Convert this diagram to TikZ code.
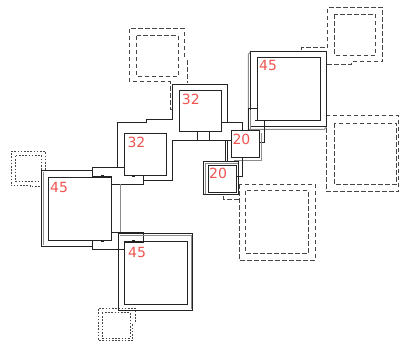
\documentclass[tikz,border=0pt]{standalone}
\usepackage{fontspec}
\newfontfamily\lblfont{DejaVu Sans}
\definecolor{lblred}{RGB}{238,84,80}
\definecolor{wallc}{RGB}{35,35,35}
\definecolor{shadec}{RGB}{140,140,140}
\definecolor{dashc}{RGB}{70,70,70}
\begin{document}
\begin{tikzpicture}[x=1pt,y=-1pt,
 wall/.style={draw=wallc,line width=1pt},
 shade/.style={draw=shadec,line width=1pt},
 dsh/.style={draw=dashc,line width=0.8pt,dash pattern=on 4.5pt off 2.5pt},
 dot/.style={draw=dashc,line width=0.8pt,dash pattern=on 1.6pt off 1.6pt},
 lbl/.style={text=lblred,font=\lblfont\fontsize{14}{14}\selectfont,anchor=north west,inner sep=0pt}]
\useasboundingbox (0,0) rectangle (399,341);
% dashed outlines
\draw[dsh] (184,57)--(184,28.3)--(129.3,28.3)--(129.3,81.7)--(170,81.7)--(170,109.3)--(172.7,109.3);
\draw[dsh] (187,60)--(187,83);
\draw[dsh] (136.7,35.7) rectangle (178.3,76.7);
\draw[dsh] (301.7,50)--(301.7,47.3)--(327.7,47.3)--(327.7,7.3)--(382.3,7.3)--(382.3,61.7)--(351.7,61.7)--(351.7,64.3)--(326.7,64.3);
\draw[dsh] (334.3,14.3) rectangle (375.7,55);
\draw[dsh] (326.7,128)--(326.7,191.7)--(398.3,191.7)--(398.3,115.3)--(326.7,115.3);
\draw[dsh] (334.3,123.3) rectangle (396.7,184.3);
\draw[dsh] (223.3,196)--(223.3,199.3)--(239,199.3);
\draw[dsh] (239,184) rectangle (315,260);
\draw[dsh] (245.7,190.7) rectangle (308.3,253.3);
% dotted outlines
\draw[dot] (45.7,170)--(45.7,151.7)--(11,151.7)--(11,185.7)--(30,185.7)--(30,186.7)--(41.7,186.7);
\draw[dot] (15.7,155.7) rectangle (41.7,181.7);
\draw[dot] (135,322)--(135,308.3)--(98.3,308.3)--(98.3,340.3)--(132.7,340.3)--(132.7,324);
\draw[dot] (102.3,312.7) rectangle (130,338.3);
% left 45 room
\draw[shade] (43.2,171.5)--(43.2,245.2);
\draw[wall] (92.3,170)--(41.7,170)--(41.7,246.7)--(92.3,246.7);
\draw[wall] (48.3,177.3) rectangle (111,240);
% corridors near left 45
\draw[wall] (92.3,167.3)--(124.3,167.3)--(124.3,175)--(143.3,175)--(143.3,184)--(111,184)--(111,176.7)--(92.3,176.7)--cycle;
\draw[wall] (111,232.3)--(143.3,232.3)--(143.3,242.3)--(124.3,242.3)--(124.3,249.3)--(92.3,249.3)--(92.3,240)--(111,240)--cycle;
\draw[shade] (120.7,184)--(120.7,232.3);
\draw[wall] (101.5,176.7)--(101.5,175.2)--(103.5,175.2)--(103.5,176.7);
\draw[wall] (132.5,175)--(132.5,176.5)--(134.5,176.5)--(134.5,175);
\draw[wall] (101.5,240)--(101.5,241.5)--(103.5,241.5)--(103.5,240);
\draw[wall] (132.5,242.3)--(132.5,240.8)--(134.5,240.8)--(134.5,242.3);
% 32 rooms
\draw[wall] (117.3,167.3)--(117.3,122.3)--(146.7,122.3)--(146.7,119.3)--(172.7,119.3)--(172.7,84)--(227.5,84)--(227.5,122.3);
\draw[wall] (221,122.3)--(242.7,122.3)--(242.7,130);
\draw[wall] (143.3,180.7)--(172.7,180.7)--(172.7,140.7)--(231,140.7);
\draw[wall] (124.3,133.3) rectangle (166,175);
\draw[wall] (179.3,90) rectangle (221,131.7);
\draw[wall] (197.7,131.7) rectangle (209.3,140.7);
% top-right 45 room
\draw[shade] (250.7,51.7)--(248.3,54.3)--(248.3,129.3)--(324.3,129.3)--(326.7,126.7);
\draw[wall] (250.7,51.7) rectangle (326.7,126.7);
\draw[wall] (257.3,57.3) rectangle (320.7,120.7);
\draw[wall] (248.3,130)--(248.3,108.3)--(257.3,108.3);
\draw[shade] (250.3,110)--(250.3,130);
\draw[wall] (255,120)--(264.3,120)--(264.3,142.7)--(259,142.7);
% upper 20 room
\draw[shade] (261.5,132.5)--(261.5,160)--(233.5,160);
\draw[wall] (231,130) rectangle (259,157.3);
\draw[wall] (225,140.7)--(225,161.7);
\draw[wall] (227.5,140.7)--(227.5,161.7);
\draw[wall] (236,176)--(242.3,176)--(242.3,157.3);
% lower 20 room
\draw[shade] (205,194)--(205,163.3)--(238.5,163.3);
\draw[wall] (203.3,161.7) rectangle (238.5,194);
\draw[wall] (208.3,165) rectangle (236,192);
% bottom 45 room
\draw[shade] (120,235)--(191,235)--(191,309);
\draw[wall] (118.3,233.3) rectangle (192.7,310.7);
\draw[wall] (124.3,241.7) rectangle (187.7,304.3);
% labels
\node[lbl] (l45tr) at (259,60) {45};
\node[lbl] (l45l) at (50,182.3) {45};
\node[lbl] (l45b) at (128,247) {45};
\node[lbl] (l32l) at (127.3,137.3) {32};
\node[lbl] (l32t) at (181.7,94.2) {32};
\node[lbl] (l20u) at (232.3,134) {20};
\node[lbl] (l20l) at (209,167.7) {20};
\end{tikzpicture}
\end{document}
